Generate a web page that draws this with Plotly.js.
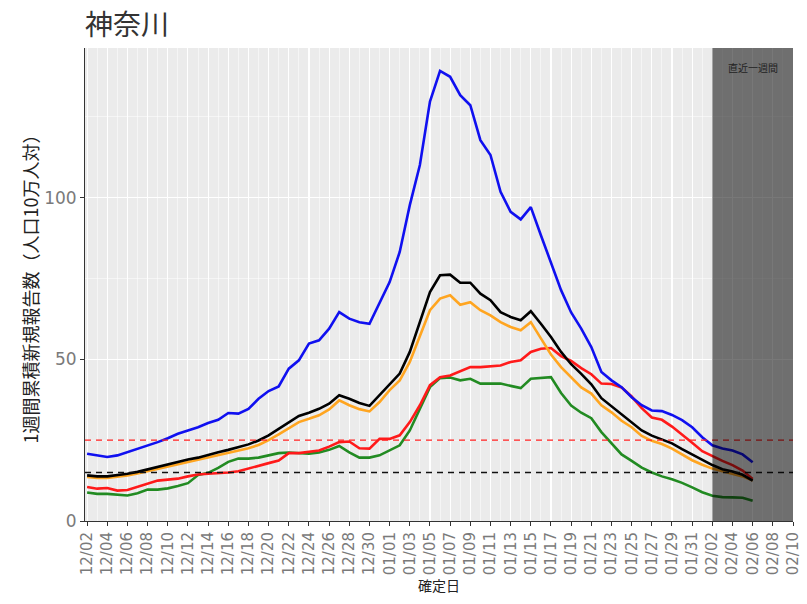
<!DOCTYPE html>
<html>
<head>
<meta charset="utf-8">
<script src="https://cdn.plot.ly/plotly-3.0.1.min.js"></script>
<style>html,body{margin:0;padding:0;background:#fff;}#chart{width:807px;height:604px;}</style>
</head>
<body>
<div id="chart"></div>
<script>
const dates = [
"2020-12-02","2020-12-03","2020-12-04","2020-12-05","2020-12-06","2020-12-07","2020-12-08","2020-12-09","2020-12-10","2020-12-11",
"2020-12-12","2020-12-13","2020-12-14","2020-12-15","2020-12-16","2020-12-17","2020-12-18","2020-12-19","2020-12-20","2020-12-21",
"2020-12-22","2020-12-23","2020-12-24","2020-12-25","2020-12-26","2020-12-27","2020-12-28","2020-12-29","2020-12-30","2020-12-31",
"2021-01-01","2021-01-02","2021-01-03","2021-01-04","2021-01-05","2021-01-06","2021-01-07","2021-01-08","2021-01-09","2021-01-10",
"2021-01-11","2021-01-12","2021-01-13","2021-01-14","2021-01-15","2021-01-16","2021-01-17","2021-01-18","2021-01-19","2021-01-20",
"2021-01-21","2021-01-22","2021-01-23","2021-01-24","2021-01-25","2021-01-26","2021-01-27","2021-01-28","2021-01-29","2021-01-30",
"2021-01-31","2021-02-01","2021-02-02","2021-02-03","2021-02-04","2021-02-05","2021-02-06"];

const blueSeries = [20.8,20.3,19.8,20.3,21.3,22.4,23.3,24.4,25.6,27.0,
28.0,29.0,30.3,31.3,33.4,33.2,34.7,37.8,40.2,41.6,
47.1,49.7,54.9,55.9,59.5,64.6,62.6,61.5,61.0,67.7,
73.9,83.2,97.7,110.1,129.7,139.2,137.4,131.7,128.6,117.8,
113.2,101.8,95.6,93.3,97.1,88.4,79.6,71.4,64.5,59.5,
53.8,46.1,43.5,41.4,38.3,35.8,34.2,34.0,32.8,31.2,
29.0,25.9,23.4,22.4,21.8,20.6,18.2];

const blackSeries = [14.1,13.8,13.8,14.1,14.6,15.2,16.0,16.8,17.5,18.2,
19.0,19.6,20.5,21.3,22.0,22.8,23.7,24.9,26.5,28.5,
30.5,32.5,33.5,34.7,36.3,38.9,37.8,36.5,35.6,38.9,
42.0,45.6,52.3,61.5,70.8,76.0,76.2,73.7,73.7,70.3,
68.3,64.6,63.1,62.1,64.9,61.0,56.9,52.3,48.5,45.5,
42.3,38.0,35.5,33.0,30.5,28.0,26.4,25.2,24.0,22.2,
20.6,18.8,17.3,16.0,15.3,14.3,12.5];

const orangeSeries = [13.6,13.3,13.3,13.6,14.1,14.7,15.4,16.2,16.9,17.6,
18.3,18.9,19.7,20.3,21.0,21.7,22.5,23.5,25.0,26.8,
28.6,30.6,31.6,32.7,34.5,37.3,35.8,34.6,33.9,36.8,
40.5,43.5,49.2,57.4,65.2,68.8,69.8,66.9,67.7,65.2,
63.6,61.5,60.0,59.0,61.5,56.5,51.5,47.6,44.5,41.3,
39.4,35.8,33.6,31.0,29.0,26.3,24.8,23.8,22.4,20.5,
18.8,17.4,16.2,15.4,14.6,13.8,12.5];

const redSeries = [10.5,10.0,10.2,9.4,9.6,10.5,11.6,12.5,12.8,13.1,
13.8,14.4,14.6,14.7,15.0,15.4,16.3,17.2,17.9,18.7,
21.0,21.0,21.3,21.8,23.0,24.4,24.6,22.5,22.4,25.4,
25.4,26.5,30.6,35.8,42.0,44.5,45.0,46.3,47.6,47.6,
47.8,48.1,49.2,49.7,52.3,53.3,53.5,51.0,49.5,47.3,
45.4,42.5,42.4,41.3,38.5,34.9,32.0,31.3,29.2,26.8,
24.2,21.6,20.0,18.6,17.3,15.6,13.0];

const greenSeries = [8.8,8.4,8.4,8.1,7.9,8.6,9.7,9.7,10.1,10.8,
11.7,14.2,14.9,16.4,18.3,19.3,19.3,19.6,20.3,21.0,
21.2,20.9,20.8,21.2,22.0,23.2,21.2,19.6,19.6,20.3,
21.8,23.4,28.0,34.7,41.4,44.2,44.4,43.5,44.0,42.5,
42.5,42.5,41.8,41.1,44.0,44.3,44.5,39.6,35.7,33.5,
31.8,27.5,24.0,20.6,18.6,16.5,15.0,13.8,12.9,11.8,
10.4,8.9,7.8,7.4,7.3,7.2,6.3];

const thresholds = [25, 15];
const thresholdColors = ['#ff2020', '#111111'];
const recentStart = '2021-02-02';
const recentLabel = '直近一週間';
const titleText = '神奈川';
const yTitle = '1週間累積新規報告数（人口10万人対）';
const xTitle = '確定日';

function line(y, color) {
  return {x: dates, y: y, type: 'scatter', mode: 'lines',
          line: {color: color, width: 2.6}, hoverinfo: 'skip', showlegend: false};
}

const traces = [
  line(greenSeries, '#228B22'),
  line(redSeries, '#FF1A1A'),
  line(orangeSeries, '#FFA520'),
  line(blackSeries, '#000000'),
  line(blueSeries, '#1010F0')
];

const shapes = thresholds.map((t, i) => ({
  type: 'line', xref: 'paper', x0: 0, x1: 1, yref: 'y', y0: t, y1: t,
  line: {color: thresholdColors[i], width: i === 0 ? 1.2 : 1.6, dash: '6px,5px'}, layer: 'above'
}));
shapes.push({type: 'rect', xref: 'x', x0: recentStart, x1: '2021-02-10', yref: 'paper', y0: 0, y1: 1,
  fillcolor: 'rgba(0,0,0,0.53)', line: {width: 0}, layer: 'above'});

const cjk = '"Noto Sans CJK JP", "Noto Sans", sans-serif';
const layout = {
  width: 807, height: 604,
  margin: {l: 85, r: 14, t: 48, b: 83},
  paper_bgcolor: '#ffffff', plot_bgcolor: '#EBEBEB',
  title: {text: titleText, font: {family: cjk, size: 28, color: '#333333'},
          xref: 'paper', x: 0, xanchor: 'left', yref: 'container', y: 0.958, yanchor: 'middle'},
  xaxis: {
    type: 'date', range: ['2020-12-01 19:00', '2021-02-10 00:00'],
    tick0: '2020-12-02', dtick: 2 * 86400000, tickformat: '%m/%d', tickangle: -90,
    tickfont: {family: 'DejaVu Sans, sans-serif', size: 15, color: '#7a7a7a'},
    ticks: 'outside', ticklen: 4, tickcolor: '#333333',
    showgrid: true, gridcolor: '#ffffff', gridwidth: 1.1,
    minor: {dtick: 86400000, tick0: '2020-12-02', showgrid: true, gridcolor: '#ffffff', gridwidth: 0.5},
    showline: true, linecolor: '#333333', linewidth: 1, zeroline: false,
    title: {text: xTitle, font: {family: cjk, size: 14, color: '#222222'}, standoff: 4}
  },
  yaxis: {
    range: [0, 146.3], tick0: 0, dtick: 50,
    tickfont: {family: 'DejaVu Sans, sans-serif', size: 17, color: '#7a7a7a'},
    ticks: 'outside', ticklen: 4, tickcolor: '#333333',
    showgrid: true, gridcolor: '#ffffff', gridwidth: 1.1,
    minor: {dtick: 25, showgrid: true, gridcolor: '#ffffff', gridwidth: 0.5},
    showline: true, linecolor: '#333333', linewidth: 1, zeroline: false,
    title: {text: yTitle, font: {family: cjk, size: 18, color: '#222222'}, standoff: 0}
  },
  shapes: shapes,
  annotations: [{
    text: recentLabel, xref: 'x', x: '2021-02-06', yref: 'paper', y: 0.958,
    showarrow: false, font: {family: cjk, size: 10, color: '#222222'}, xanchor: 'center', yanchor: 'middle'
  }]
};

Plotly.newPlot('chart', traces, layout, {displayModeBar: false, staticPlot: true});
</script>
</body>
</html>
